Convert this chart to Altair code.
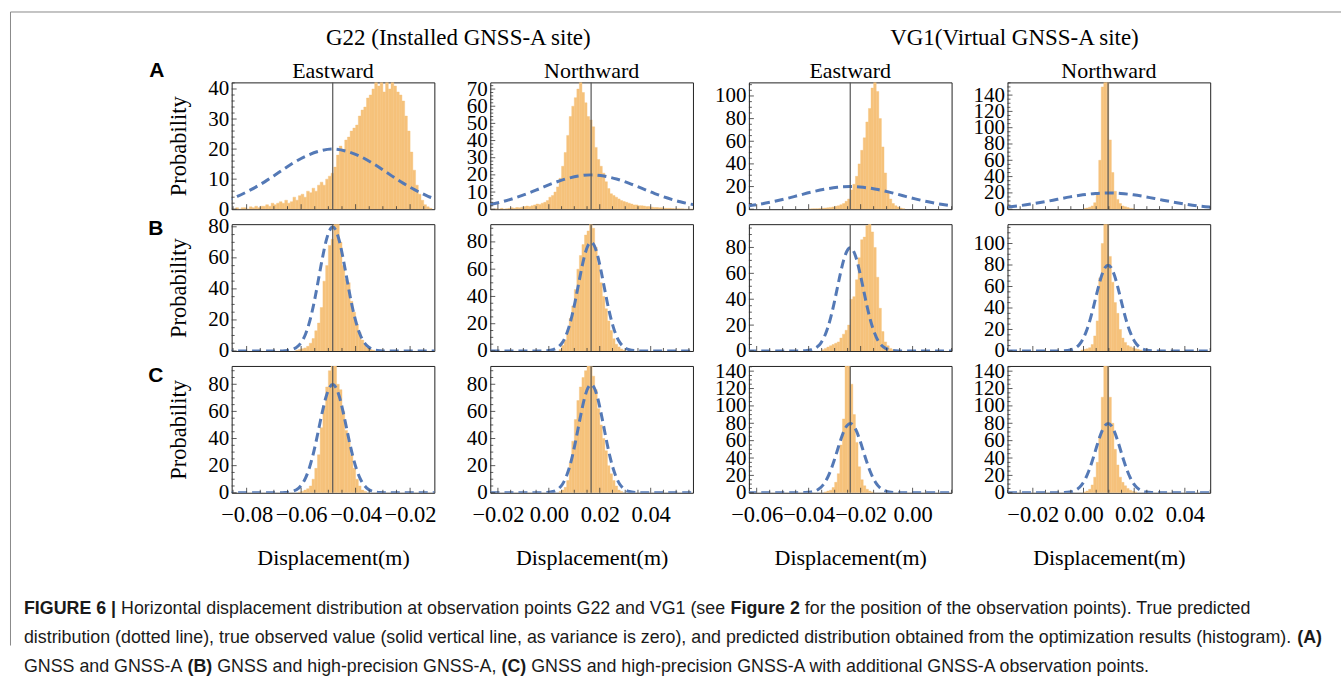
import altair as alt
import pandas as pd
import numpy as np

# ---------------- data ----------------
COL_TITLES = ["Eastward", "Northward", "Eastward", "Northward"]
GROUP_TITLES = ["G22 (Installed GNSS-A site)", "VG1(Virtual GNSS-A site)"]
ROW_LABELS = ["A", "B", "C"]
X_AXIS_TITLE = "Displacement(m)"
Y_AXIS_TITLE = "Probability"

# x range of each column (m) and the true observed value (vertical line)
X_MIN = [-0.0855, -0.0230, -0.0630, -0.0300]
X_MAX = [-0.0111, 0.0566, 0.0150, 0.0500]
TRUE_VALUE = [-0.0484, 0.0166, -0.0240, 0.0097]
X_TICK_LABELS = [[-0.08, -0.06, -0.04, -0.02], [-0.02, 0.0, 0.02, 0.04],
                 [-0.06, -0.04, -0.02, 0.0], [-0.02, 0.0, 0.02, 0.04]]

# y range of every panel (rows A, B, C)
Y_MAX = [[42.2, 73.9, 112, 155.6],
         [81.7, 93, 98, 118],
         [93.5, 93.5, 146, 146]]
Y_TICK_LABELS = [
    [[0, 10, 20, 30, 40], [0, 10, 20, 30, 40, 50, 60, 70],
     [0, 20, 40, 60, 80, 100], [0, 20, 40, 60, 80, 100, 120, 140]],
    [[0, 20, 40, 60, 80], [0, 20, 40, 60, 80], [0, 20, 40, 60, 80],
     [0, 20, 40, 60, 80, 100]],
    [[0, 20, 40, 60, 80], [0, 20, 40, 60, 80],
     [0, 20, 40, 60, 80, 100, 120, 140], [0, 20, 40, 60, 80, 100, 120, 140]],
]

# histograms: left edge of first bin and bar heights (bin width 0.001 m)
BIN_WIDTH = 0.001
HIST_START = [[-0.0850, -0.0230, -0.0400, 0.0000],
              [-0.0620, 0.0040, -0.0350, -0.0010],
              [-0.0610, 0.0040, -0.0340, 0.0000]]
HIST_A1 = [0, 0.5, 0, 0.5, 0.5, 0, 0.8, 0.5, 1, 0.5, 1,
           1, 1.5, 1, 2, 1.5, 2, 2.5, 2, 3, 2, 2.5,
           4, 3, 4.5, 5, 4, 6, 5.5, 7, 6, 8,
           9, 8, 10, 11, 12,
           14, 18, 21, 20, 23, 24, 26, 27, 28, 31,
           33, 34, 37, 38, 40, 44, 41, 43, 39, 45,
           40, 44, 41, 39, 38, 36, 31, 26, 19, 13,
           8, 5, 3, 1.5, 0.8, 0.3]
HIST_A2 = [0, 0, 0.3, 0, 0.5, 0, 0.3, 0.5, 0.8, 0.5, 1, 0.8, 1.2,
           1.5, 1.8, 1.5, 2, 2.5, 3, 2.8, 3.5,
           4, 5, 7, 8, 10,
           13, 18, 25, 33,
           43, 54, 60, 65,
           70, 76, 68, 62,
           54, 52, 48, 36,
           29, 25, 21, 16, 12,
           9, 8, 7, 6, 5, 4.5, 4, 3.5, 3, 2.5,
           2.5, 2, 2, 1.8, 1.5, 1.5, 1.2, 1, 1, 0.8, 0.8, 0.6, 0.5, 0.5,
           0.4, 0.3, 0.3, 0.2, 0.2, 0.1, 0, 0, 0]
HIST_A3 = [0.2, 0.3, 0.4, 0.5, 0.7, 0.8, 1, 1.3, 1.6, 2, 2.5, 3, 4, 5, 7,
           9, 17, 22, 29, 40, 52, 63, 77, 89, 107, 115, 104, 80, 55, 32,
           16, 9, 5, 3, 2, 1, 0.5]
HIST_A4 = [1, 1.5, 2.5, 4, 8, 20, 60, 150, 220, 170, 85, 45, 22, 12, 7, 4,
           3, 2, 1, 0.5]
HIST_B1 = [0.5, 1, 1.5, 2, 3, 5, 8, 13, 18, 28, 45, 55, 68, 72, 84, 90, 70,
           55, 46, 44, 32, 25, 17, 12, 7, 4, 2, 1, 0.5]
HIST_B2 = [1, 4, 8, 15, 24, 33, 45, 60, 70, 78, 85, 88, 95, 90, 76, 64, 50,
           40, 31, 22, 15, 9, 5, 3, 1.5, 0.5]
HIST_B3 = [1, 2, 3, 4, 5, 6, 7, 10, 13, 16, 20, 40, 42, 55, 72, 86, 88, 97,
           102, 92, 80, 57, 33, 15, 7, 4, 2, 1]
HIST_B4 = [1, 1.5, 2, 3, 6, 14, 28, 68, 100, 125, 122, 88, 64, 45, 35, 20,
           12, 8, 5, 4, 3, 2, 1.5, 1]
HIST_C1 = [0.5, 1, 2, 3, 5, 10, 18, 28, 48, 64, 78, 90, 100, 98, 80, 76, 60,
           46, 38, 28, 18, 10, 5, 2, 1]
HIST_C2 = [1, 2, 4, 9, 22, 38, 54, 68, 78, 85, 90, 96, 95, 86, 76, 62, 50,
           40, 31, 20, 14, 9, 5, 2, 1]
HIST_C3 = [1, 2, 3, 6, 12, 22, 55, 85, 150, 160, 125, 90, 58, 30, 15, 8, 4,
           2, 1]
HIST_C4 = [1, 2, 4, 9, 18, 35, 65, 110, 160, 150, 110, 80, 50, 32, 18, 12,
           8, 5, 3, 1.5, 1]
HISTS = [[HIST_A1, HIST_A2, HIST_A3, HIST_A4],
         [HIST_B1, HIST_B2, HIST_B3, HIST_B4],
         [HIST_C1, HIST_C2, HIST_C3, HIST_C4]]

# dashed "true predicted distribution" curves, read as offset from the
# true value (m) and height; row A is the wide curve, rows B/C the narrow one
CURVE_OFFSETS_A = [-0.045, -0.04, -0.035, -0.03, -0.025, -0.02, -0.015, -0.01,
                   -0.005, 0.0, 0.005, 0.01, 0.015, 0.02, 0.025, 0.03, 0.035,
                   0.04, 0.045]
CURVE_VALUES_A = [1.6, 2.7, 4.3, 6.5, 9.1, 12.1, 15.1, 17.6, 19.3, 20.0, 19.3,
                  17.6, 15.1, 12.1, 9.1, 6.5, 4.3, 2.7, 1.6]
CURVE_OFFSETS_BC = [-0.045, -0.02, -0.0175, -0.015, -0.0125, -0.01125, -0.01,
                    -0.00875, -0.0075, -0.00625, -0.005, -0.00375, -0.0025,
                    -0.00125, 0.0, 0.00125, 0.0025, 0.00375, 0.005, 0.00625,
                    0.0075, 0.00875, 0.01, 0.01125, 0.0125, 0.015, 0.0175,
                    0.02, 0.045]
CURVE_VALUES_BC = [0, 0, 0.2, 0.9, 3.5, 6.3, 10.8, 17.3, 25.9, 36.5, 48.4,
                   60.2, 70.4, 77.3, 79.8, 77.3, 70.4, 60.2, 48.4, 36.5, 25.9,
                   17.3, 10.8, 6.3, 3.5, 0.9, 0.2, 0, 0]

CAPTION = [
    [("FIGURE 6 | ", True),
     ("Horizontal displacement distribution at observation points G22 and VG1 (see ", False),
     ("Figure 2", True),
     (" for the position of the observation points). True predicted", False)],
    [("distribution (dotted line), true observed value (solid vertical line, as variance is zero), "
      "and predicted distribution obtained from the optimization results (histogram). ", False),
     ("(A)", True)],
    [("GNSS and GNSS-A ", False), ("(B)", True),
     (" GNSS and high-precision GNSS-A, ", False), ("(C)", True),
     (" GNSS and high-precision GNSS-A with additional GNSS-A observation points.", False)],
]

# ---------------- styling / layout ----------------
SERIF = "Liberation Serif"
SANS = "Liberation Sans"
ORANGE = "#f6c27b"
BLUE = "#5479b6"
W, H = 203, 127
P0X, P0Y = 231, 81          # page position of the top-left panel
ONE = pd.DataFrame({"a": [0]})

# Helvetica/Arial advance widths (per 1000 em) for laying out the caption
REG_W = {" ": 278, "(": 333, ")": 333, ",": 278, "-": 333, ".": 278, "|": 260}
BOLD_W = {" ": 278, "(": 333, ")": 333, ",": 278, "-": 333, ".": 278, "|": 280}
for ch in "0123456789":
    REG_W[ch] = 556
    BOLD_W[ch] = 556
REG_W.update(dict(zip("ABCDEFGHIJKLMNOPQRSTUVWXYZ",
    [667, 667, 722, 722, 667, 611, 778, 722, 278, 500, 667, 556, 833, 722, 778,
     667, 778, 722, 667, 611, 722, 667, 944, 667, 667, 611])))
REG_W.update(dict(zip("abcdefghijklmnopqrstuvwxyz",
    [556, 556, 500, 556, 556, 278, 556, 556, 222, 222, 500, 222, 833, 556, 556,
     556, 556, 333, 500, 278, 556, 500, 722, 500, 500, 500])))
BOLD_W.update(dict(zip("ABCDEFGHIJKLMNOPQRSTUVWXYZ",
    [722, 722, 722, 722, 667, 611, 778, 722, 278, 556, 722, 611, 833, 722, 778,
     667, 778, 722, 667, 611, 722, 667, 944, 667, 667, 611])))
BOLD_W.update(dict(zip("abcdefghijklmnopqrstuvwxyz",
    [556, 611, 556, 611, 556, 333, 611, 611, 278, 278, 556, 278, 889, 611, 611,
     611, 611, 389, 556, 333, 611, 556, 778, 556, 556, 500])))


def em_width(s, bold):
    tbl = BOLD_W if bold else REG_W
    return sum(tbl.get(ch, 556) for ch in s) / 1000.0


CAP_X0 = 23
CAP_FS = (1323 - CAP_X0) / sum(em_width(s, b) for s, b in CAPTION[1])
CAP_Y = [608, 637, 666]


def tick_values(lo, hi, step):
    k0 = int(np.ceil(lo / step - 1e-9))
    k1 = int(np.floor(hi / step + 1e-9))
    return [round(k * step, 6) for k in range(k0, k1 + 1)]


def text_layer(txt, x, y, font, size, weight="normal", align="center",
               color="black"):
    return alt.Chart(ONE).mark_text(
        text=txt, font=font, fontSize=size, fontWeight=weight, align=align,
        baseline="middle", color=color).encode(x=alt.value(x), y=alt.value(y))


def annotations():
    lay = []
    fx = 9.5 - P0X
    fy = 10.5 - P0Y
    lay.append(alt.Chart(ONE).mark_rule(color="#8a8a8a", strokeWidth=1).encode(
        x=alt.value(fx), x2=alt.value(1342 - P0X), y=alt.value(fy)))
    lay.append(alt.Chart(ONE).mark_rule(color="#8a8a8a", strokeWidth=1).encode(
        x=alt.value(fx), y=alt.value(fy), y2=alt.value(645 - P0Y)))
    lay.append(text_layer(GROUP_TITLES[0], 458 - P0X, 37 - P0Y, SERIF, 23))
    lay.append(text_layer(GROUP_TITLES[1], 1015 - P0X, 37 - P0Y, SERIF, 23))
    for lab, (lx, ly) in zip(ROW_LABELS, [(156, 70), (155, 228), (155, 375)]):
        lay.append(text_layer(lab, lx - P0X, ly - P0Y, SANS, 21, "bold"))
    for line, yy in zip(CAPTION, CAP_Y):
        x = CAP_X0
        for seg, bold in line:
            lead = len(seg) - len(seg.lstrip())
            xs = x + em_width(seg[:lead], bold) * CAP_FS
            lay.append(text_layer(seg.strip(), xs - P0X, yy - P0Y, SANS, CAP_FS,
                                  "bold" if bold else "normal", "left",
                                  "#1a1a1a"))
            x += em_width(seg, bold) * CAP_FS
    return lay


def panel(r, c):
    xs = alt.Scale(domain=[X_MIN[c], X_MAX[c]], nice=False, zero=False)
    ys = alt.Scale(domain=[0, Y_MAX[r][c]], nice=False, zero=False)
    if r == 2:
        xaxis = alt.Axis(values=X_TICK_LABELS[c], format=".2f", ticks=False,
                         domain=False, grid=False, labelFont=SERIF,
                         labelFontSize=22.5, labelColor="black", labelPadding=11,
                         labelOverlap=False, labelFlush=False, labelBound=False,
                         title=X_AXIS_TITLE, titleFont=SERIF, titleFontSize=22,
                         titleFontWeight="normal", titleColor="black",
                         titlePadding=21)
    else:
        xaxis = None
    yaxis = alt.Axis(values=Y_TICK_LABELS[r][c], ticks=False, domain=False,
                     grid=False, labelFont=SERIF, labelFontSize=21,
                     labelColor="black", labelPadding=3, labelOverlap=False,
                     labelFlush=False, labelBound=False,
                     title=Y_AXIS_TITLE if c == 0 else None, titleFont=SERIF,
                     titleFontSize=22.5, titleFontWeight="normal",
                     titleColor="black", titlePadding=17)

    heights = HISTS[r][c]
    x0 = [HIST_START[r][c] + i * BIN_WIDTH for i in range(len(heights))]
    hdf = pd.DataFrame({"x0": x0, "x1": [v + BIN_WIDTH for v in x0],
                        "h": heights, "base": [0] * len(heights)})
    bars = alt.Chart(hdf).mark_rect(clip=True, color=ORANGE, stroke=ORANGE,
                                    strokeWidth=0.4).encode(
        x=alt.X("x0:Q", scale=xs, axis=xaxis), x2="x1:Q",
        y=alt.Y("h:Q", scale=ys, axis=yaxis), y2="base:Q")

    offs, vals = (CURVE_OFFSETS_A, CURVE_VALUES_A) if r == 0 else (CURVE_OFFSETS_BC, CURVE_VALUES_BC)
    cdf = pd.DataFrame({"x": [TRUE_VALUE[c] + o for o in offs], "y": vals})
    curve = alt.Chart(cdf).mark_line(clip=True, color=BLUE, strokeWidth=3,
                                     strokeDash=[9, 5], interpolate="monotone").encode(
        x=alt.X("x:Q", scale=xs, axis=xaxis), y=alt.Y("y:Q", scale=ys, axis=yaxis))

    truth = alt.Chart(pd.DataFrame({"t": [TRUE_VALUE[c]]})).mark_rule(
        color="#555555", strokeWidth=1.2).encode(
        x=alt.X("t:Q", scale=xs, axis=xaxis), y=alt.value(0), y2=alt.value(H))

    ylab = Y_TICK_LABELS[r][c]
    ystep = ylab[1] - ylab[0]
    ymajor = tick_values(0, Y_MAX[r][c], ystep)
    yminor = [v for v in tick_values(0, Y_MAX[r][c], 2 if ystep == 10 else 5)
              if v not in ymajor]
    xmajor = tick_values(X_MIN[c], X_MAX[c], 0.02)
    xminor = [v for v in tick_values(X_MIN[c], X_MAX[c], 0.005)
              if all(abs(v - m) > 1e-9 for m in xmajor)]

    def ytick(vals, ln):
        return alt.Chart(pd.DataFrame({"v": vals})).mark_rule(
            color="#333333", strokeWidth=0.8).encode(
            y=alt.Y("v:Q", scale=ys, axis=yaxis), x=alt.value(0), x2=alt.value(ln))

    def xtick(vals, ln):
        return alt.Chart(pd.DataFrame({"v": vals})).mark_rule(
            color="#333333", strokeWidth=0.8).encode(
            x=alt.X("v:Q", scale=xs, axis=xaxis), y=alt.value(H), y2=alt.value(H - ln))

    layers = [bars, curve, truth, ytick(ymajor, 5), ytick(yminor, 3),
              xtick(xmajor, 5), xtick(xminor, 3)]
    if r == 0:
        layers.append(text_layer(COL_TITLES[c], W / 2, -11, SERIF, 22))
    if r == 0 and c == 0:
        layers += annotations()
    return alt.layer(*layers).properties(width=W, height=H)


panels = [panel(r, c) for r in range(3) for c in range(4)]

chart = alt.concat(*panels, columns=4, spacing={"row": 15, "column": 56},
                   bounds="flush").properties(
    padding={"left": 9, "top": 10, "right": 0, "bottom": 0},
    background="white",
).configure_view(stroke="#222222", strokeWidth=1)

chart.save("out.html", embed_options={"renderer": "svg", "actions": False})
